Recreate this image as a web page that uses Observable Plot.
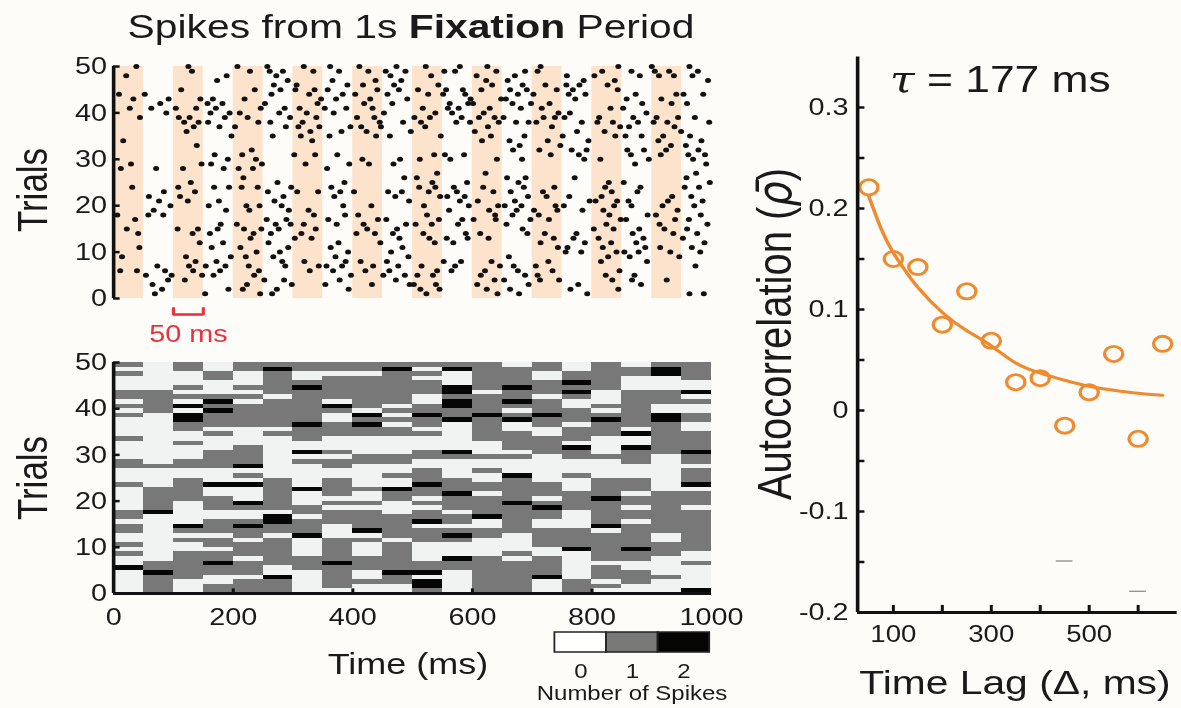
<!DOCTYPE html>
<html><head><meta charset="utf-8">
<script src="https://cdn.jsdelivr.net/npm/d3@7"></script>
<script src="https://cdn.jsdelivr.net/npm/@observablehq/plot@0.6"></script>
<style>
html,body{margin:0;padding:0;background:#fdfcf9;overflow:hidden;}
#wrap{position:relative;width:984.17px;height:708px;transform:scaleX(1.2);transform-origin:0 0;}
#wrap > *{position:absolute;}
</style></head><body><div id="wrap"></div>
<script>
// ---------- DATA ----------
// Spike times (ms) per trial, first string = trial 50, last = trial 1
const SPIKES = [
"38 125 207 257 318 362 411 473 522 579 625 714 844 900 963",
"131 228 261 283 334 377 426 455 488 553 571 640 688 709 817 866 905 929 977",
"21 189 272 463 531 607 671 758 804 880 912 937 968",
"173 291 366 438 481 623 659 786 838 994",
"268 306 391 417 469 543 633 684 722 757 779 826",
"113 236 279 304 336 358 441 477 509 556 584 615 663 691 741 768 843",
"9 52 264 327 383 404 458 526 551 588 676 702 761 789 873 941 953 986",
"33 92 145 166 219 347 372 429 491 597 648 656 772 858 916",
"78 157 182 253 341 419 466 562 593 601 667 698 729 884 933 959",
"27 63 104 138 171 246 286 311 353 389 433 517 559 577 629 681 716 831 852",
"88 162 194 211 277 323 368 452 538 566 619 744 763 891",
"44 109 127 186 224 295 339 407 436 503 529 582 611 637 652 719 738 754 812 869 908 944 972",
"118 142 158 242 262 316 445 484 514 573 596 644 673 694 707 783 809 835 877 903 926 996",
"134 177 203 288 309 344 396 414 447 521 626 733 847 862 938",
"122 329 381 423 497 604 775 821 949",
"197 266 313 361 439 462 547 631 687 751 839 856 883 919 964",
"16 332 616 662 726 794 911 983",
"139 679 747 932 957",
"231 668 712 766 791 859 887 924 978",
"169 215 302 337 374 536 554 586 731 778 865 915 961 989",
"191 238 416 479 512 563 641 683 787 814 895 969",
"29 147 163 248 321 394 427 468 872 991",
"12 71 116 184 209 233 357",
"541 622 974",
"217 486 507 658 689 771 958",
"129 274 386 533 591 677 828 853 997",
"31 108 168 193 214 241 297 364 511 538 569 618 686 737 822 881 955 979",
"84 136 258 307 342 379 402 459 482 527 574 635 664 718 833 876",
"59 111 284 369 471 546 558 587 693 724 762 816 934 966",
"76 124 176 269 494 579 609 671 796 806 842 861 927 985",
"95 159 222 244 281 384 431 519 594 643 654 682 739 753 837 866 918 971",
"67 188 227 293 326 561 628 674 703 742 784 819 943",
"6 58 83 335 387 409 524 638 667 711 829 893 907 982",
"36 256 289 359 442 456 544 583 602 639 697 728 848 857 939 962",
"179 206 271 296 318 373 418 489 505 532 576 657 824 913 993",
"22 107 141 174 218 247 276 338 424 474 684 803 836 879 921 959",
"41 132 161 234 263 314 406 437 467 518 589 613 692 721 774 868 936 976",
"229 303 331 478 528 557 592 627 736 769 811 886 952",
"144 183 259 376 446 537 568 714 788 832 874 988",
"43 164 212 292 363 483 743 759 818 889 914 967",
"239 278 392 464 756 782 841 854 878 931 981",
"14 121 196 221 267 371 493 661 827 863 946",
"137 172 282 319 388 413 457 552 581 632 727 815 892",
"73 126 154 187 226 287 343 356 382 434 476 515 571 646 669 706 973",
"11 39 86 133 178 243 328 367 421 461 541 565 621 676 734 846",
"54 97 148 167 235 397 451 487 508 534 614 688 709 823 871",
"91 119 252 285 378 472 637 653 713 745 834 867 925",
"65 223 298 354 432 495 502 539 608 694 777 882",
"81 192 216 273 393 513 545 624 663 764 844",
"69 153 245 265 523 642 678 792 963 987"
];
const N_TRIALS = 50;
const BIN_WIDTH = 50;
const BIN_STARTS = [0,50,100,150,200,250,300,350,400,450,500,550,600,650,700,750,800,850,900,950];
const BANDS = [0,100,200,300,400,500,600,700,800,900];   // shaded 50 ms bins
const TRIAL_TICKS = [0,10,20,30,40,50];
const TIME_TICKS = [0,200,400,600,800,1000];
const COUNT_LEVELS = [0,1,2];
const COUNT_LABELS = ["0","1","2"];
const SCALEBAR = {start:100, length:50, label:"50 ms"};

const ACF_LAGS   = [50,100,150,200,250,300,350,400,450,500,550,600,650];
const ACF_VALUES = [0.221,0.150,0.142,0.085,0.118,0.069,0.028,0.032,-0.015,0.018,0.056,-0.028,0.066];
const FIT_LAGS   = [50,75,100,125,150,200,250,300,350,400,450,500,550,600,650];
const FIT_VALUES = [0.212,0.180,0.156,0.138,0.122,0.097,0.079,0.064,0.047,0.037,0.030,0.024,0.020,0.017,0.015];
const MARK_LAGS   = [450,600];          // faint grey dashes
const MARK_VALUES = [-0.149,-0.179];
const ACF_YTICKS  = [-0.2,-0.15,-0.1,-0.05,0,0.05,0.1,0.15,0.2,0.25,0.3];
const ACF_YLABELS = ["-0.2","","-0.1","","0","","0.1","","0.2","","0.3"];
const LAG_TICKS   = [100,200,300,400,500,600];
const LAG_LABELS  = ["100","","300","","500",""];
const TAU_MS = 177;

// ---------- styles ----------
const FONT = '"Liberation Sans", Arial, Helvetica, sans-serif';
const INK = "#1a1a1a";
const AXIS = "#111";
const BAND_COLOR = "#fde3cb";
const RED = "#e8323c";
const ORANGE = "#f08a2e";
const HEAT_COLORS = ["#f1f2f2","#787878","#050505"];
const LEGEND_COLORS = ["#ffffff","#787878","#050505"];
const baseStyle = {background:"transparent", fontFamily:FONT, fontSize:"23px", color:INK, overflow:"visible"};

// ---------- derived tables ----------
const spikes = SPIKES.flatMap((s,i) => s.split(" ").map(Number).map(t => ({time:t, trial:N_TRIALS - i})));
const counts = [];
SPIKES.forEach((s,i) => {
  const times = s.split(" ").map(Number);
  BIN_STARTS.forEach(b => counts.push({trial:N_TRIALS - i, bin:b,
    count: times.filter(t => t >= b && t < b + BIN_WIDTH).length}));
});
const acf = ACF_LAGS.map((lag,i) => ({lag, value:ACF_VALUES[i]}));
const fit = FIT_LAGS.map((lag,i) => ({lag, value:FIT_VALUES[i]}));
const marksG = MARK_LAGS.map((lag,i) => ({lag, value:MARK_VALUES[i]}));

const wrap = document.getElementById("wrap");
function place(el, left, top){ el.style.left = left + "px"; el.style.top = top + "px"; wrap.appendChild(el); }

// inward tick helpers (lengths in data units)
const yTicksIn = (ticks, x0, len) => Plot.ruleY(ticks, {x1:x0, x2:x0+len, stroke:AXIS, strokeWidth:2.5});
const xTicksIn = (ticks, y0, len) => Plot.ruleX(ticks, {y1:y0, y2:y0+len, stroke:AXIS, strokeWidth:2.5});

// ---------- raster ----------
const raster = Plot.plot({
  width:610, height:310, marginLeft:94.2, marginRight:17.5, marginTop:26, marginBottom:52,
  x:{domain:[0,1000], axis:null}, y:{domain:[0,50], axis:null},
  style:baseStyle,
  marks:[
    Plot.rect(BANDS, {x1:d=>d, x2:d=>d+BIN_WIDTH, y1:0, y2:50, fill:BAND_COLOR}),
    Plot.dot(spikes, {x:"time", y:"trial", r:2.5, fill:"#111", stroke:null}),
    Plot.ruleX([0], {y1:0, y2:50, stroke:AXIS, strokeWidth:3}),
    yTicksIn(TRIAL_TICKS, 0, 11),
    Plot.axisY({ticks:TRIAL_TICKS, tickSize:0, tickPadding:5.5, label:null, fontSize:24, tickFormat:d=>String(d)}),
    Plot.ruleY([SCALEBAR], {x1:d=>d.start, x2:d=>d.start+d.length, y:-3.45, stroke:RED, strokeWidth:2.6}),
    Plot.ruleX([SCALEBAR.start, SCALEBAR.start+SCALEBAR.length], {y1:-2.0, y2:-3.7, stroke:RED, strokeWidth:2.6}),
    Plot.text([SCALEBAR], {x:d=>d.start+d.length/2, y:-5.7, text:d=>d.label, fill:RED, fontSize:24, lineAnchor:"top"})
  ]
});
place(raster, 0, 40);

// ---------- heatmap ----------
const heat = Plot.plot({
  width:610, height:330, marginLeft:94.2, marginRight:17.5, marginTop:22, marginBottom:77,
  x:{domain:[0,1000], axis:null}, y:{domain:[0,50], axis:null},
  color:{type:"ordinal", domain:COUNT_LEVELS, range:HEAT_COLORS},
  style:baseStyle,
  marks:[
    Plot.rect(counts, {x1:"bin", x2:d=>d.bin+BIN_WIDTH, y1:d=>d.trial-1, y2:"trial", fill:"count", shapeRendering:"crispEdges"}),
    Plot.ruleX([0], {y1:0, y2:50, stroke:AXIS, strokeWidth:3}),
    Plot.ruleY([0], {x1:0, x2:1000, stroke:AXIS, strokeWidth:3}),
    yTicksIn(TRIAL_TICKS, 0, 11),
    xTicksIn(TIME_TICKS.slice(1, -1), 0, 1.0),
    Plot.axisY({ticks:TRIAL_TICKS, tickSize:0, tickPadding:5.5, label:null, fontSize:24, tickFormat:d=>String(d)}),
    Plot.axisX({ticks:TIME_TICKS, tickSize:0, tickPadding:14, label:null, fontSize:24, tickFormat:d=>String(d)})
  ]
});
place(heat, 0, 340);

// ---------- legend ----------
const legend = Plot.plot({
  width:143, height:78, marginLeft:5.8, marginRight:6.3, marginTop:2, marginBottom:56,
  x:{type:"band", domain:COUNT_LEVELS, padding:0, axis:null},
  color:{type:"ordinal", domain:COUNT_LEVELS, range:LEGEND_COLORS},
  style:baseStyle,
  marks:[
    Plot.cell(COUNT_LEVELS, {x:d=>d, fill:d=>d, stroke:"#222", strokeWidth:1.5}),
    Plot.axisX({tickSize:0, tickPadding:11, fontSize:20, label:null, tickFormat:d=>COUNT_LABELS[COUNT_LEVELS.indexOf(d)]})
  ]
});
place(legend, 455, 630);

// ---------- autocorrelation ----------
const acPlot = Plot.plot({
  width:344, height:668, marginLeft:74.2, marginRight:3.4, marginTop:16.5, marginBottom:96,
  x:{domain:[27,680], axis:null}, y:{domain:[-0.2,0.35], axis:null},
  style:baseStyle,
  marks:[
    Plot.ruleY(marksG, {y:"value", x1:d=>d.lag-17, x2:d=>d.lag+17, stroke:"#8c8c8c", strokeWidth:1.3}),
    Plot.line(fit, {x:"lag", y:"value", curve:"natural", stroke:ORANGE, strokeWidth:3}),
    Plot.dot(acf, {x:"lag", y:"value", r:7.6, stroke:ORANGE, strokeWidth:2.8, fill:"none"}),
    Plot.ruleX([27], {y1:-0.2, y2:0.35, stroke:AXIS, strokeWidth:3}),
    Plot.ruleY([-0.2], {x1:27, x2:680, stroke:AXIS, strokeWidth:3}),
    yTicksIn(ACF_YTICKS.slice(1), 27, 15),
    xTicksIn(LAG_TICKS, -0.2, 0.007),
    Plot.axisY({ticks:ACF_YTICKS, tickSize:0, tickPadding:7.5, label:null, fontSize:24,
      tickFormat:d=>ACF_YLABELS[ACF_YTICKS.findIndex(v=>Math.abs(v-d)<1e-9)]}),
    Plot.axisX({ticks:LAG_TICKS, tickSize:0, tickPadding:13, label:null, fontSize:23,
      tickFormat:d=>LAG_LABELS[LAG_TICKS.indexOf(d)]})
  ]
});
place(acPlot, 640, 40);

// ---------- text labels ----------
const ov = d3.create("svg").attr("width",984.17).attr("height",708)
  .style("left","0px").style("top","0px").style("overflow","visible").style("pointer-events","none")
  .attr("font-family", FONT).attr("fill", INK);
const title = ov.append("text").attr("x",342.5).attr("y",38).attr("font-size",34).attr("text-anchor","middle");
title.append("tspan").text("Spikes from 1s ");
title.append("tspan").attr("font-weight","bold").text("Fixation");
title.append("tspan").text(" Period");
function vlabel(txt, x, y, size){
  return ov.append("text").attr("transform",`translate(${x},${y}) rotate(-90)`).attr("font-size",size)
    .attr("text-anchor","middle").attr("dominant-baseline","central").text(txt);
}
vlabel("Trials", 27, 190, 35);
vlabel("Trials", 27, 478, 35);
ov.append("text").attr("x",340).attr("y",674).attr("font-size",30).attr("text-anchor","middle").text("Time (ms)");
ov.append("text").attr("x",526.7).attr("y",700).attr("font-size",20).attr("text-anchor","middle").text("Number of Spikes");
const ac = ov.append("text").attr("transform","translate(645,334) rotate(-90)").attr("font-size",40)
  .attr("text-anchor","middle").attr("dominant-baseline","central");
ac.append("tspan").text("Autocorrelation (");
ac.append("tspan").attr("font-style","italic").attr("font-family","DejaVu Sans").text("\u03C1\u0304");
ac.append("tspan").text(")");
ov.append("text").attr("x",845.8).attr("y",694).attr("font-size",34).attr("text-anchor","middle").text("Time Lag (\u0394, ms)");
const tau = ov.append("text").attr("x",741.7).attr("y",92).attr("font-size",37);
tau.append("tspan").attr("font-style","italic").attr("font-family","DejaVu Serif").text("\u03C4");
tau.append("tspan").text(`  = ${TAU_MS} ms`);
place(ov.node(), 0, 0);
</script></body></html>
